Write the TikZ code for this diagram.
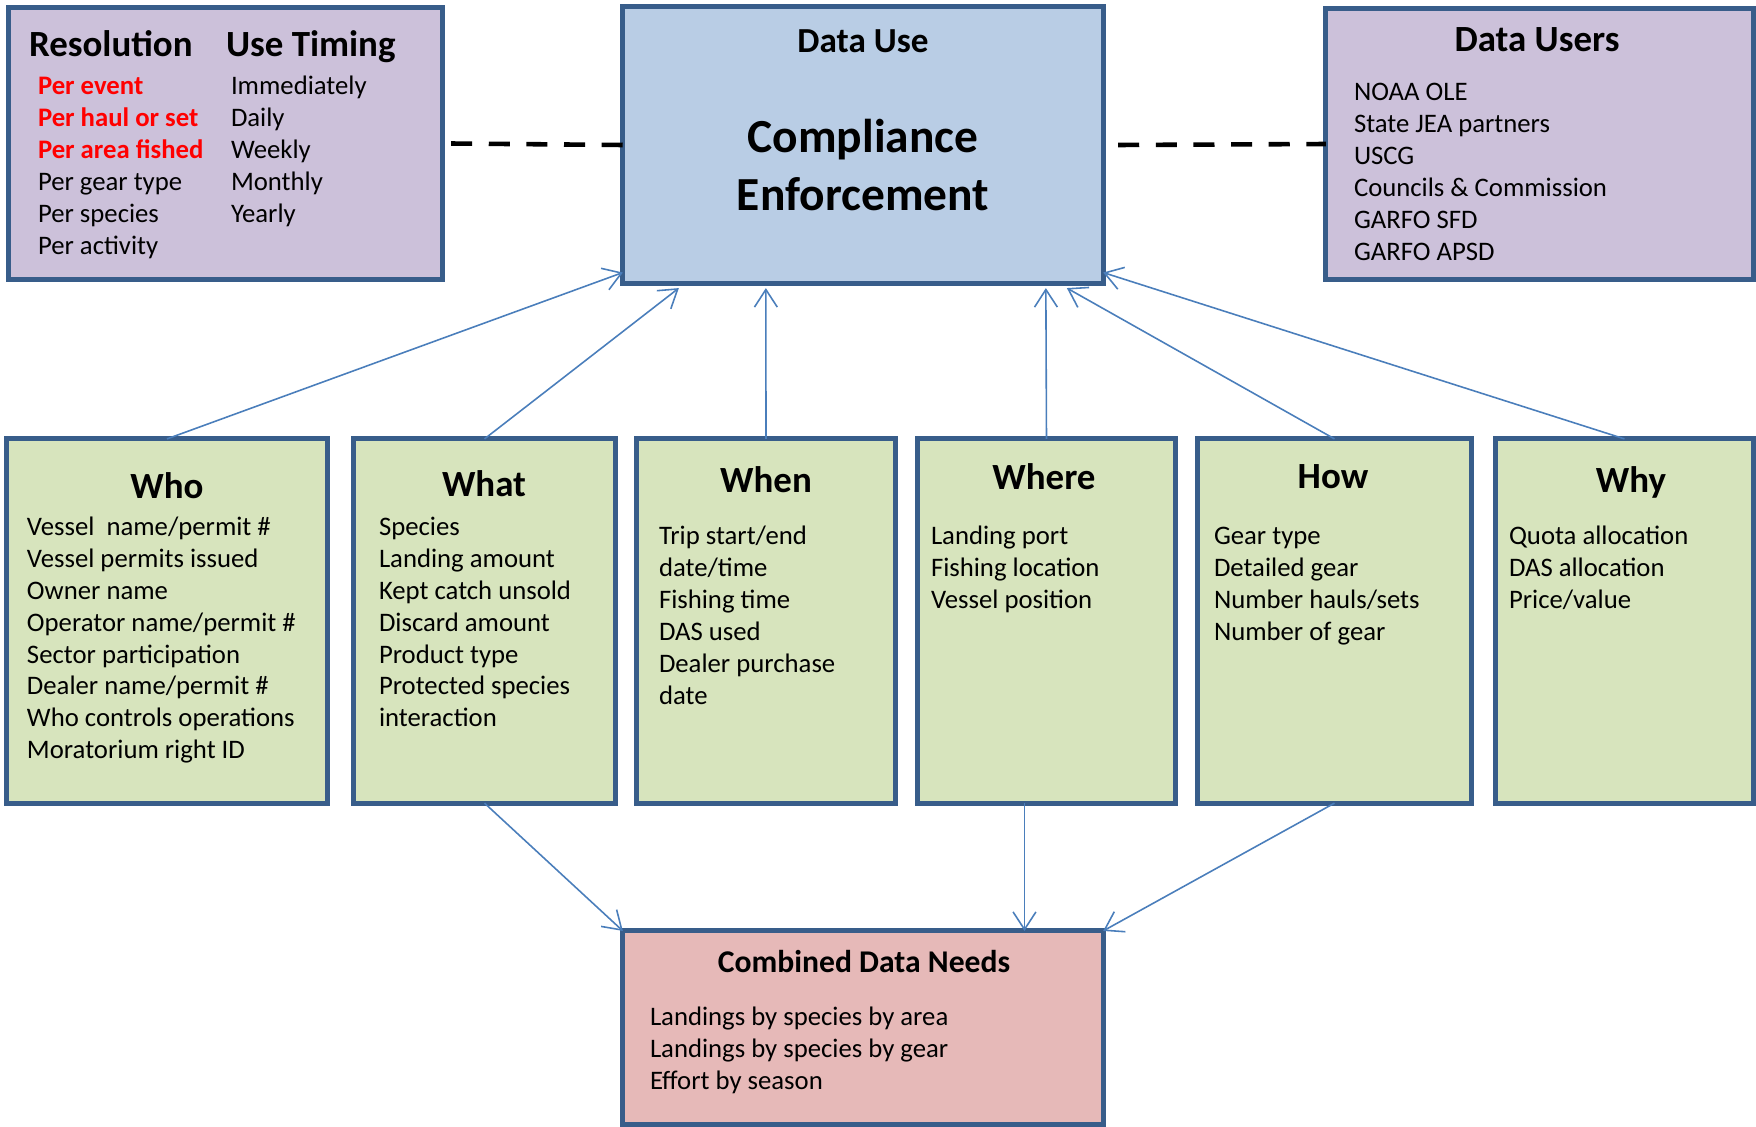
\documentclass[tikz,border=0pt]{standalone}
\usepackage{fontspec}
\setmainfont{Carlito}
\usetikzlibrary{arrows.meta, positioning}

\definecolor{edgeblue}{HTML}{385D8A}
\definecolor{arrowblue}{HTML}{4A7EBB}
\definecolor{lilac}{HTML}{CCC1DA}
\definecolor{skyblue}{HTML}{B9CDE5}
\definecolor{sage}{HTML}{D7E4BD}
\definecolor{rose}{HTML}{E6B9B8}

\newcommand{\itemfont}{\fontsize{7.6}{9.05}\selectfont}
\newcommand{\redbf}[1]{\textcolor{red}{\bfseries #1}}

\begin{document}
\begin{tikzpicture}[
      x=0.01cm, y=-0.01cm,
      every node/.style={inner sep=0pt, outer sep=0pt},
      box/.style={draw=edgeblue, line width=1.4pt, rectangle},
      head/.style={anchor=base, font=\bfseries\fontsize{10.5}{12}\selectfont},
      items/.style={anchor=base west, align=left, font=\itemfont},
      feed/.style={draw=arrowblue, line width=.45pt, -{Straight Barb[length=5pt, width=6.5pt]}},
      link/.style={draw=black, line width=1.3pt, dash pattern=on 6pt off 4.7pt}
    ]
    \useasboundingbox (0,0) rectangle (1756,1127);

    % top row
    \node[box, fill=lilac, minimum width=4.33cm, minimum height=2.71cm] (res) at (225.5,143.5) {};
    \node[box, fill=skyblue, minimum width=4.8cm, minimum height=2.76cm] (use) at (863,145) {};
    \node[box, fill=lilac, minimum width=4.27cm, minimum height=2.7cm] (users) at (1539.5,144) {};

    % lists sit on the baseline of their last line
    \node[head, anchor=base west] (reshead) at (29,56) {Resolution};
    \node[head, anchor=base west] (timehead) at (226,56) {Use Timing};
    \node[items] (reslist) at (38,254) {\redbf{Per event}\\ \redbf{Per haul or set}\\ \redbf{Per area fished}\\
      Per gear type\\ Per species\\ Per activity};
    \node[items] (timelist) at (231,222.2) {Immediately\\ Daily\\ Weekly\\ Monthly\\ Yearly};

    \node[head, font=\bfseries\fontsize{10}{12}\selectfont] (usehead) at (863,52) {Data Use};
    \node[anchor=base, font=\bfseries\fontsize{13.5}{16.4}\selectfont, align=center] (usetext) at (863,210)
      {Compliance\\ Enforcement};

    \node[head] (usershead) at (1537,51.5) {Data Users};
    \node[items] (userslist) at (1354,260) {NOAA OLE\\ State JEA partners\\ USCG\\
      Councils \& Commission\\ GARFO SFD\\ GARFO APSD};

    % question boxes
    \tikzstyle{qbox} = [box, fill=sage, minimum height=3.64cm]
    \node[qbox, minimum width=3.2cm] (who) at (167,621) {};
    \node[qbox, minimum width=2.61cm] (what) at (484.5,621) {};
    \node[qbox, minimum width=2.58cm] (when) at (766,621) {};
    \node[qbox, minimum width=2.57cm] (where) at (1046.5,621) {};
    \node[qbox, minimum width=2.73cm] (how) at (1334.5,621) {};
    \node[qbox, minimum width=2.57cm] (why) at (1624.5,621) {};

    \node[head] (whohead) at (167,498) {Who};
    \node[items] (wholist) at (27,758.6) {Vessel\ \ name/permit \#\\ Vessel permits issued\\ Owner name\\
      Operator name/permit \#\\ Sector participation\\ Dealer name/permit \#\\
      Who controls operations\\ Moratorium right ID};
    \node[head] (whathead) at (484,496) {What};
    \node[items] (whatlist) at (379,726.8) {Species\\ Landing amount\\ Kept catch unsold\\ Discard amount\\
      Product type\\ Protected species\\ interaction};
    \node[head] (whenhead) at (766,492) {When};
    \node[items] (whenlist) at (659,704) {Trip start/end\\ date/time\\ Fishing time\\ DAS used\\
      Dealer purchase\\ date};
    \node[head] (wherehead) at (1044,489) {Where};
    \node[items] (wherelist) at (931,608.6) {Landing port\\ Fishing location\\ Vessel position};
    \node[head] (howhead) at (1333,488) {How};
    \node[items] (howlist) at (1214,640.4) {Gear type\\ Detailed gear\\ Number hauls/sets\\ Number of gear};
    \node[head] (whyhead) at (1631,492) {Why};
    \node[items] (whylist) at (1509,608.6) {Quota allocation\\ DAS allocation\\ Price/value};

    % bottom box
    \node[box, fill=rose, minimum width=4.8cm, minimum height=1.93cm] (needs) at (863,1027.5) {};
    \node[head, font=\bfseries\fontsize{9}{11}\selectfont] (needshead) at (864,972) {Combined Data Needs};
    \node[items] (needslist) at (650,1089.6) {Landings by species by area\\ Landings by species by gear\\
      Effort by season};

    % dashed links
    \draw[link] ([shift={(9,0)}]res.east) -- (use.west);
    \draw[link] ([shift={(15,0)}]use.east) -- (users.west);

    % arrows up to data use
    \draw[feed] (who.north) -- ([yshift=3pt]use.south west);
    \draw[feed] (what.north) -- ([shift={(56,5)}]use.south west);
    \draw[feed] (when.north) -- ([shift={(143,5)}]use.south west);
    \draw[feed] (where.north) -- ([shift={(423,5)}]use.south west);
    \draw[feed] (how.north) -- ([shift={(444,5)}]use.south west);
    \draw[feed] (why.north) -- ([yshift=3pt]use.south east);

    % arrows down to combined needs
    \draw[feed] (what.south) -- (needs.north west);
    \draw[feed] ([shift={(-22,0)}]where.south) -- ([shift={(-22,0)}]where.south |- needs.north);
    \draw[feed] (how.south) -- (needs.north east);
\end{tikzpicture}
\end{document}
